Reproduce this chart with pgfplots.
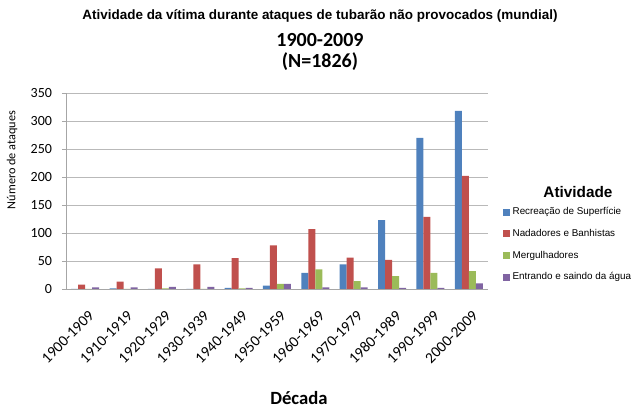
\documentclass[border=0pt]{standalone}
\usepackage{fontspec}
\setmainfont{Liberation Sans}
\newfontfamily\calib{Carlito}
\usepackage{pgfplots}
\pgfplotsset{compat=1.18}
\definecolor{cblue}{HTML}{4F81BD}
\definecolor{cred}{HTML}{C0504D}
\definecolor{cgreen}{HTML}{9BBB59}
\definecolor{cpurple}{HTML}{8064A2}
\begin{document}
\begin{tikzpicture}
\useasboundingbox (0pt,0pt) rectangle (480pt,307.5pt);
\begin{axis}[
  at={(49.5pt,90.75pt)}, anchor=south west,
  scale only axis, width=316.5pt, height=147pt,
  ybar=0pt, bar width=5.25pt,
  xmin=-0.5, xmax=10.5, ymin=0, ymax=350,
  ytick distance=50,
  xtick={0,...,10},
  xticklabels={1900-1909,1910-1919,1920-1929,1930-1939,1940-1949,1950-1959,1960-1969,1970-1979,1980-1989,1990-1999,2000-2009},
  /pgf/number format/assume math mode=true,
  ticklabel style={font=\calib\fontsize{10.5}{11}\selectfont, text=black},
  xticklabel style={font=\calib\fontsize{11.5}{12}\selectfont, yshift=-11pt, xshift=2pt, rotate=45, anchor=north east, inner sep=1pt},
  yticklabel style={xshift=-4pt},
  axis lines*=left,
  axis line style={draw=gray!70, line width=0.6pt},
  ymajorgrids, grid style={draw=gray!55, line width=0.6pt},
  xtick style={draw=none},
  ytick style={draw=gray!70, line width=0.6pt},
  tick align=outside, major tick length=3pt,
  enlargelimits=false,
  legend style={at={(1.035,0.43)}, anchor=north west, draw=none, fill=none,
    font=\fontsize{7.4}{9}\selectfont, row sep=5.3pt, inner sep=0pt,
    cells={anchor=west}},
  legend image code/.code={\fill[#1] (0pt,-2.6pt) rectangle (5.2pt,2.6pt);},
]
\addplot[fill=cblue, draw=none] coordinates {(0,0) (1,1) (2,0) (3,0) (4,2) (5,6) (6,29) (7,44) (8,123) (9,270) (10,318)};
\addplot[fill=cred, draw=none] coordinates {(0,8) (1,13) (2,37) (3,44) (4,55) (5,78) (6,107) (7,56) (8,52) (9,129) (10,202)};
\addplot[fill=cgreen, draw=none] coordinates {(0,0) (1,0) (2,1) (3,0) (4,1) (5,9) (6,35) (7,14) (8,23) (9,29) (10,32)};
\addplot[fill=cpurple, draw=none] coordinates {(0,3) (1,3) (2,4) (3,4) (4,2) (5,9) (6,3) (7,3) (8,2) (9,2) (10,10)};
\legend{Recreação de Superfície, Nadadores e Banhistas, Mergulhadores, Entrando e saindo da água}
\end{axis}
\node[font=\bfseries\fontsize{10.1}{11}\selectfont] at (240pt,295.5pt) {Atividade da vítima durante ataques de tubarão não provocados (mundial)};
\node[font=\calib\bfseries\fontsize{15}{16}\selectfont] at (240pt,277.5pt) {1900-2009};
\node[font=\calib\bfseries\fontsize{15}{16}\selectfont] at (240pt,261pt) {(N=1826)};
\node[font=\calib\fontsize{9.2}{10}\selectfont, rotate=90] at (9pt,187.5pt) {Número de ataques};
\node[font=\calib\bfseries\fontsize{14}{15}\selectfont] at (224.25pt,9pt) {Década};
\node[font=\bfseries\fontsize{11.5}{12}\selectfont] at (433.5pt,163.5pt) {Atividade};
\end{tikzpicture}
\end{document}
